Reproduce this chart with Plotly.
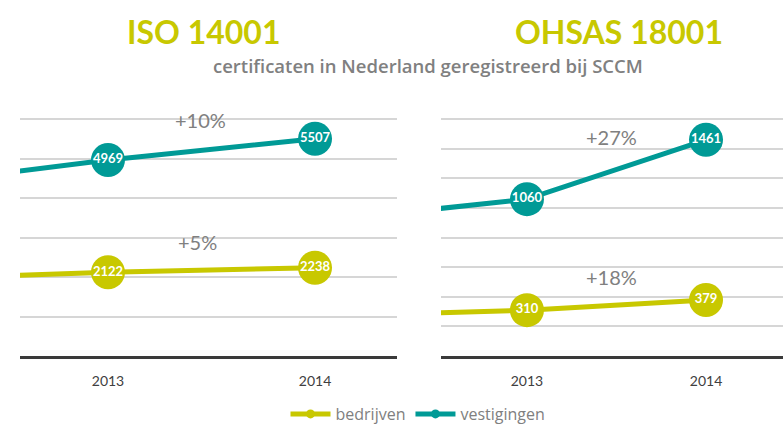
import plotly.graph_objects as go

# Data
years = [2012, 2013, 2014]
iso_bedrijven = [1950, 2122, 2238]       # 2012 value estimated (off-panel)
iso_vestigingen = [4310, 4969, 5507]     # 2012 value estimated (off-panel)
ohsas_bedrijven = [273, 310, 379]        # 2012 value estimated (off-panel)
ohsas_vestigingen = [930, 1060, 1461]    # 2012 value estimated (off-panel)
tick_years = [2013, 2014]
tick_labels = ["2013", "2014"]
iso_growth = ["+5%", "+10%"]
ohsas_growth = ["+18%", "+27%"]

YELLOW = "#c8c800"
TEAL = "#009a96"
GREY = "#808080"
FONT = "Lato"

fig = go.Figure()

def add_series(vals, color, xa, ya):
    labels = [""] + [str(v) for v in vals[1:]]
    sizes = [0] + [34] * (len(vals) - 1)
    fig.add_trace(go.Scatter(
        x=years, y=vals, xaxis=xa, yaxis=ya,
        mode="lines+markers+text",
        line=dict(color=color, width=5),
        marker=dict(color=color, size=sizes, opacity=1, line=dict(width=0)),
        text=labels, textposition="middle center",
        textfont=dict(color="white", size=13, family=FONT, weight="bold"),
        showlegend=False, hoverinfo="x+y", cliponaxis=True,
    ))

add_series(iso_bedrijven, YELLOW, "x", "y")
add_series(iso_vestigingen, TEAL, "x", "y")
add_series(ohsas_bedrijven, YELLOW, "x2", "y2")
add_series(ohsas_vestigingen, TEAL, "x2", "y2")

# legend-only traces
for name, color in [("bedrijven", YELLOW), ("vestigingen", TEAL)]:
    fig.add_trace(go.Scatter(
        x=[None], y=[None], mode="lines+markers", name=name,
        line=dict(color=color, width=5), marker=dict(color=color, size=9),
    ))

ydom = [85 / 441, (441 - 111.4) / 441]
axis_common = dict(
    tickmode="array", tickvals=tick_years, ticktext=tick_labels,
    tickfont=dict(size=14, color="#404040", family=FONT),
    showline=True, linecolor="#3a3a3a", linewidth=3,
    ticks="outside", ticklen=10, tickcolor="rgba(0,0,0,0)",
    showgrid=False, zeroline=False, fixedrange=True,
)
yaxis_common = dict(
    showgrid=True, gridcolor="#d6d6d6", gridwidth=1.5,
    showticklabels=False, zeroline=False, showline=False,
    domain=ydom, fixedrange=True,
)

fig.update_layout(
    width=783, height=441,
    margin=dict(l=0, r=0, t=0, b=0),
    paper_bgcolor="white", plot_bgcolor="white",
    font=dict(family=FONT),
    xaxis=dict(domain=[20 / 783, 397 / 783], range=[2012.575, 2014.396], anchor="y", **axis_common),
    yaxis=dict(range=[0, 6200], dtick=1000, anchor="x", **yaxis_common),
    xaxis2=dict(domain=[441 / 783, 1.0], range=[2012.52, 2014.43], anchor="y2", **axis_common),
    yaxis2=dict(range=[0, 1653], dtick=200, anchor="x2", **yaxis_common),
    legend=dict(orientation="h", x=418 / 783, y=27 / 441, xanchor="center", yanchor="middle",
                font=dict(size=16, color=GREY, family="Open Sans"), itemwidth=40),
)

def note(text, x, y, size, color, xref="paper", yref="paper", family=FONT, weight="normal"):
    return dict(text=text, x=x, y=y, xref=xref, yref=yref, xanchor="center", yanchor="middle",
                showarrow=False, font=dict(size=size, color=color, family=family, weight=weight))

ann = [
    note("ISO 14001", 204 / 783, 1 - 31.5 / 441, 32, YELLOW, weight="bold"),
    note("OHSAS 18001", 619 / 783, 1 - 31.5 / 441, 32, YELLOW, weight="bold"),
    note("certificaten in Nederland geregistreerd bij SCCM", 428 / 783, 1 - 66 / 441, 18.5, GREY,
         family="Open Sans", weight=600),
    note(iso_growth[0], 2013.43, (356 - 242) * 25.3, 20, GREY, "x", "y"),
    note(iso_growth[1], 2013.445, (356 - 120) * 25.3, 20, GREY, "x", "y"),
    note(ohsas_growth[0], 2013.47, (356 - 277) * 6.75, 20, GREY, "x2", "y2"),
    note(ohsas_growth[1], 2013.47, (356 - 137) * 6.75, 20, GREY, "x2", "y2"),
]
fig.update_layout(annotations=ann)

fig.write_html(
    "out.html",
    config={"displayModeBar": False},
    post_script="document.body.style.margin='0';document.body.style.overflow='hidden';",
)
